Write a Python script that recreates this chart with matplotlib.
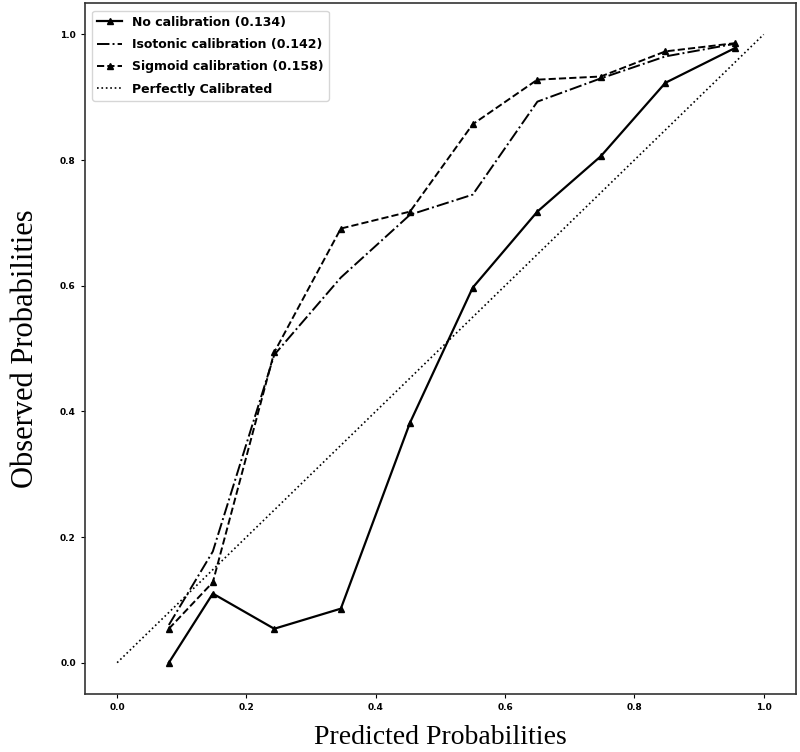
import matplotlib
matplotlib.use("Agg")
import matplotlib.pyplot as plt

mean_pred = [0.080, 0.148, 0.243, 0.346, 0.453, 0.550, 0.650, 0.748, 0.848, 0.955]
no_cal = [0.000, 0.110, 0.054, 0.086, 0.382, 0.597, 0.718, 0.806, 0.923, 0.978]
isotonic = [0.060, 0.177, 0.490, 0.613, 0.713, 0.745, 0.893, 0.930, 0.965, 0.985]
sigmoid = [0.054, 0.128, 0.494, 0.691, 0.718, 0.857, 0.928, 0.933, 0.973, 0.986]
perfect = [0.0, 1.0]

labels = ["No calibration (0.134)", "Isotonic calibration (0.142)",
          "Sigmoid calibration (0.158)", "Perfectly Calibrated"]
ticks = [0.0, 0.2, 0.4, 0.6, 0.8, 1.0]

fig = plt.figure(figsize=(8, 7.52), dpi=100)
ax = fig.add_axes([0.106, 0.077, 0.889, 0.919])

ax.plot(mean_pred, no_cal, "k-", marker="^", markersize=4, lw=1.6, label=labels[0])
ax.plot(mean_pred, isotonic, "k-.", lw=1.4, label=labels[1])
ax.plot(mean_pred, sigmoid, "k--", marker="^", markersize=4, lw=1.4, label=labels[2])
ax.plot(perfect, perfect, "k:", lw=1.2, label=labels[3])

ax.set_xlim(-0.05, 1.05)
ax.set_ylim(-0.05, 1.05)
ax.set_xticks(ticks)
ax.set_yticks(ticks)
ax.set_xticklabels([f"{t:.1f}" for t in ticks], fontsize=6.5, fontweight="bold")
ax.set_yticklabels([f"{t:.1f}" for t in ticks], fontsize=6.5, fontweight="bold")
ax.tick_params(length=3, width=0.8)
for s in ax.spines.values():
    s.set_linewidth(1.2)
    s.set_color("#333333")

ax.set_xlabel("Predicted Probabilities", family="Liberation Serif", fontsize=20, labelpad=9)
ax.set_ylabel("Observed Probabilities", family="Liberation Serif", fontsize=22, labelpad=14)

ax.legend(loc="upper left", handlelength=2.0, frameon=True, labelspacing=0.75,
          borderaxespad=0.6, prop={"weight": "bold", "size": 9})

fig.savefig("out.png", dpi=100)
